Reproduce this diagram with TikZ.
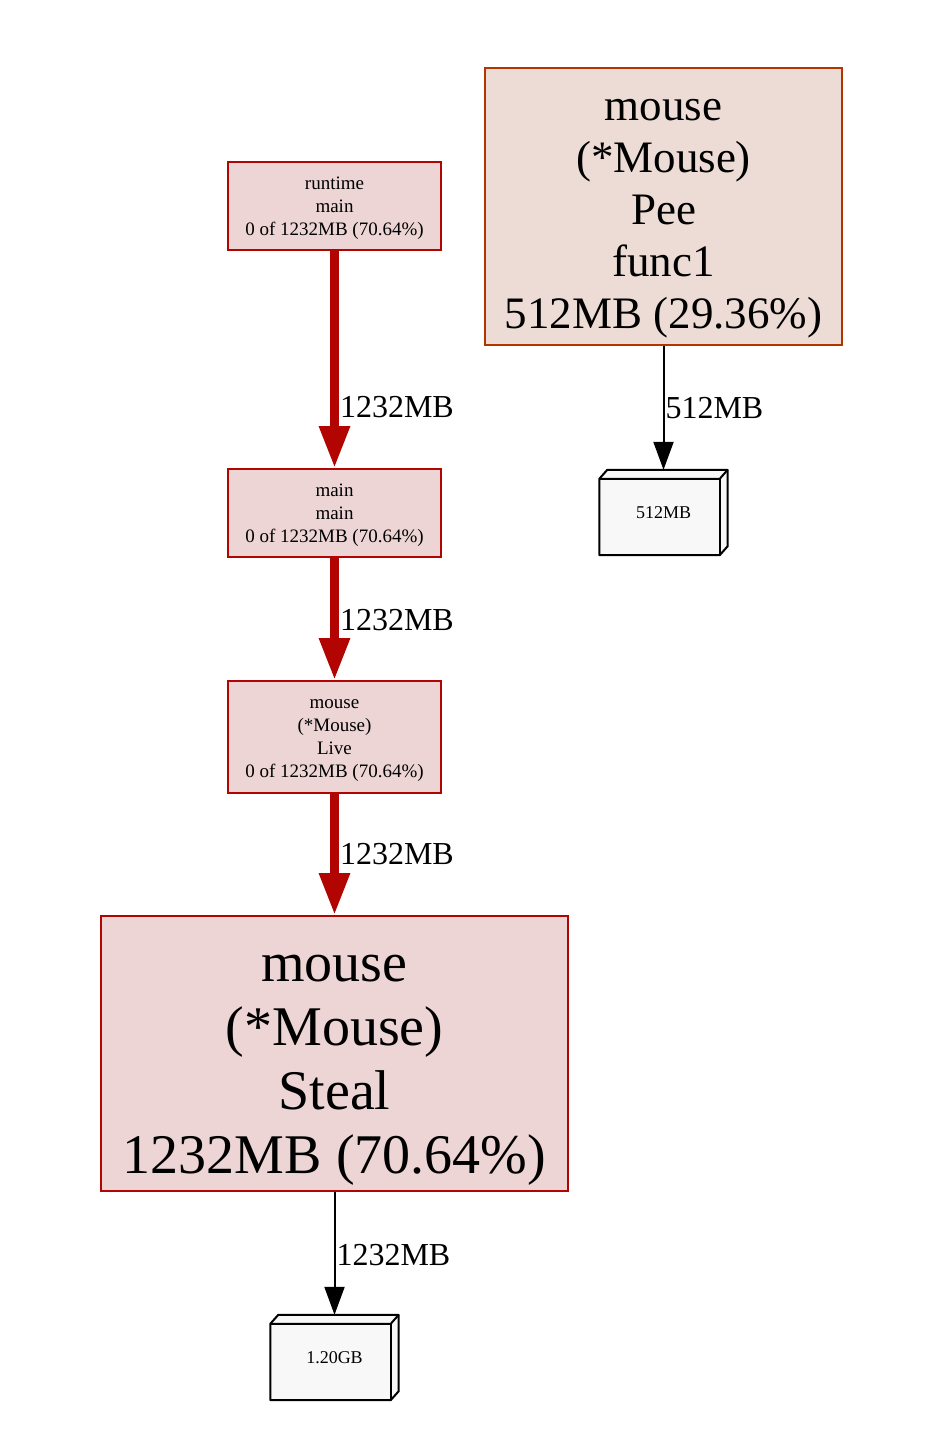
\documentclass[tikz,border=0pt]{standalone}
\usepackage{fontspec}
\setmainfont{Liberation Serif}
\usepackage{tikz}
\usetikzlibrary{arrows.meta}
\definecolor{hotline}{HTML}{B20400}
\definecolor{hotfill}{HTML}{EDD5D5}
\definecolor{warmline}{HTML}{B23500}
\definecolor{warmfill}{HTML}{EDDCD5}
\definecolor{boxfill}{HTML}{F8F8F8}
\tikzset{
  fnode/.style={rectangle, draw=hotline, fill=hotfill, line width=2pt, align=center,
    inner sep=0pt, font=\fontsize{19}{23}\selectfont, text depth=0pt, text height=59pt},
  heavy/.style={draw=hotline, line width=9pt, -{Triangle[length=42pt,width=29pt]}},
  light/.style={draw=black, line width=2pt, -{Triangle[length=28pt,width=20pt]}},
  elabel/.style={right, inner sep=1pt, font=\fontsize{32}{36}\selectfont},
  datbox/.style={rectangle, inner sep=0pt, minimum width=128pt, minimum height=85pt,
    font=\fontsize{18}{20}\selectfont},
}
\newcommand{\boxthree}[1]{%
  \fill[boxfill] ([yshift=-9pt]#1.north west) -- ([xshift=8pt]#1.north west) -- (#1.north east)
    -- ([yshift=9pt]#1.south east) -- ([xshift=-8pt]#1.south east) -- (#1.south west) -- cycle;
  \draw[line width=2pt, line join=round]
    ([yshift=-9pt]#1.north west) -- ([xshift=8pt]#1.north west) -- (#1.north east)
    -- ([yshift=9pt]#1.south east) -- ([xshift=-8pt]#1.south east) -- (#1.south west) -- cycle;
  \draw[line width=2pt, line join=round]
    ([yshift=-9pt]#1.north west) -- ([xshift=-8pt,yshift=-9pt]#1.north east) -- (#1.north east);
  \draw[line width=2pt]
    ([xshift=-8pt,yshift=-9pt]#1.north east) -- ([xshift=-8pt]#1.south east);
}
\begin{document}
\begin{tikzpicture}[x=1pt, y=-1pt]
  \useasboundingbox[fill=white] (0,0) rectangle (928,1434);

  \node[fnode, minimum width=213pt, minimum height=88pt] at (334.5, 206) (rt) {runtime\\main\\0 of 1232MB (70.64\%)};
  \node[fnode, minimum width=213pt, minimum height=88pt] at (334.5, 513) (mm) {main\\main\\0 of 1232MB (70.64\%)};
  \node[fnode, minimum width=213pt, minimum height=112pt, text height=80pt] at (334.5, 737) (live) {mouse\\(*Mouse)\\Live\\0 of 1232MB (70.64\%)};
  \node[fnode, minimum width=467pt, minimum height=275pt, text height=239pt, font=\fontsize{56}{64}\selectfont] at (334.5, 1053.5) (steal) {mouse\\(*Mouse)\\Steal\\1232MB (70.64\%)};
  \node[fnode, draw=warmline, fill=warmfill, minimum width=357pt, minimum height=277pt, text height=243pt, font=\fontsize{45}{52}\selectfont] at (663.5, 206.5) (pee) {mouse\\(*Mouse)\\Pee\\func1\\512MB (29.36\%)};

  % allocation boxes
  \node[datbox] at (663.5, 512.5) (peebox) {};
  \boxthree{peebox}
  \node[font=\fontsize{18}{20}\selectfont] at (peebox) {512MB};
  \node[datbox] at (334.5, 1357.5) (stealbox) {};
  \boxthree{stealbox}
  \node[font=\fontsize{18}{20}\selectfont] at (stealbox) {1.20GB};

  \draw[heavy] (rt) -- node[elabel, pos=0.72] {1232MB} (mm);
  \draw[heavy] (mm) -- node[elabel, pos=0.51] {1232MB} (live);
  \draw[heavy] (live) -- node[elabel, pos=0.5] {1232MB} (steal);
  \draw[light] (steal) -- node[elabel, pos=0.51] {1232MB} (stealbox);
  \draw[light] (pee) -- node[elabel, pos=0.5] {512MB} (peebox);
\end{tikzpicture}
\end{document}
